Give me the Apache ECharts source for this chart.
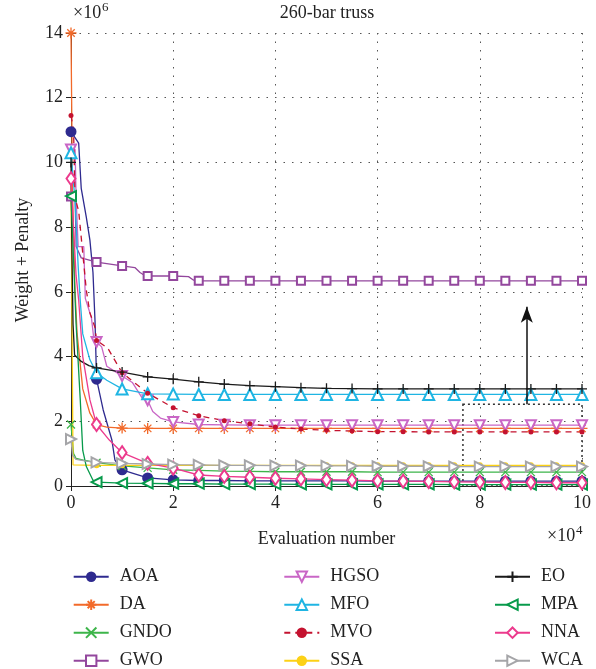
<!DOCTYPE html>
<html><head><meta charset="utf-8">
<script src="https://cdn.jsdelivr.net/npm/echarts@6/dist/echarts.min.js"></script>
<style>html,body{margin:0;padding:0;background:#fff}#c{width:596px;height:669px}</style>
</head><body><div id="c"></div>
<script>
// x in units of 1e4 evaluations, y in units of 1e6
const names = ['AOA','DA','GNDO','GWO','HGSO','MFO','MVO','SSA','EO','MPA','NNA','WCA'];
const xTicks = [0,2,4,6,8,10];
const yTicks = [0,2,4,6,8,10,12,14];

const AOA = [[0,10.95],[0.15,10.6],[0.2,9.2],[0.3,8.3],[0.37,7.6],[0.43,6.6],[0.47,5.1],[0.5,3.3],[0.63,2.35],[0.8,1.42],[0.86,0.8],[1,0.5],[1.2,0.4],[1.5,0.25],[2,0.19],[2.5,0.17],[3,0.17],[3.5,0.16],[4,0.16],[4.5,0.16],[5,0.16],[5.5,0.16],[6,0.15],[6.5,0.15],[7,0.15],[7.5,0.15],[8,0.15],[8.5,0.15],[9,0.15],[9.5,0.15],[10,0.15]];
const DA = [[0,14],[0.03,9],[0.08,6],[0.12,4.7],[0.23,3.0],[0.37,2.25],[0.5,1.9],[0.7,1.82],[1,1.79],[1.5,1.78],[2,1.78],[2.5,1.78],[3,1.78],[3.5,1.78],[4,1.78],[4.5,1.78],[5,1.78],[5.5,1.78],[6,1.78],[6.5,1.78],[7,1.78],[7.5,1.78],[8,1.78],[8.5,1.78],[9,1.78],[9.5,1.78],[10,1.78]];
const GNDO = [[0,1.9],[0.05,1.0],[0.1,0.85],[0.3,0.78],[0.5,0.72],[1,0.62],[1.5,0.56],[2,0.5],[2.5,0.48],[3,0.46],[3.5,0.45],[4,0.44],[4.5,0.44],[5,0.44],[5.5,0.44],[6,0.43],[6.5,0.43],[7,0.43],[7.5,0.43],[8,0.43],[8.5,0.43],[9,0.43],[9.5,0.43],[10,0.43]];
const GWO = [[0,8.95],[0.08,8.95],[0.1,7.4],[0.2,7.05],[0.5,6.92],[1,6.8],[1.25,6.75],[1.35,6.6],[1.45,6.5],[1.5,6.49],[2,6.49],[2.3,6.47],[2.4,6.36],[2.5,6.34],[3,6.34],[3.5,6.34],[4,6.34],[4.5,6.34],[5,6.34],[5.5,6.34],[6,6.34],[6.5,6.34],[7,6.34],[7.5,6.34],[8,6.34],[8.5,6.34],[9,6.34],[9.5,6.34],[10,6.34]];
const HGSO = [[0,10.4],[0.08,10.4],[0.1,8.9],[0.14,7.4],[0.25,7.4],[0.28,5.8],[0.4,5.2],[0.45,4.5],[0.5,4.45],[0.6,4.3],[0.7,3.7],[0.85,3.55],[1,3.4],[1.2,3.2],[1.4,2.7],[1.5,2.65],[1.6,2.3],[1.75,2.1],[2,1.98],[2.5,1.9],[3,1.89],[3.5,1.88],[4,1.88],[4.5,1.88],[5,1.88],[5.5,1.88],[6,1.88],[6.5,1.88],[7,1.88],[7.5,1.88],[8,1.88],[8.5,1.88],[9,1.88],[9.5,1.88],[10,1.88]];
const MFO = [[0,10.3],[0.08,8.8],[0.14,6.8],[0.18,5.75],[0.23,4.7],[0.37,3.9],[0.5,3.5],[0.7,3.27],[1,3.0],[1.5,2.85],[2,2.84],[2.5,2.83],[3,2.83],[3.5,2.83],[4,2.83],[4.5,2.83],[5,2.83],[5.5,2.83],[6,2.83],[6.5,2.83],[7,2.83],[7.5,2.83],[8,2.83],[8.5,2.83],[9,2.83],[9.5,2.83],[10,2.83]];
const MVO = [[0,11.45],[0.05,11],[0.08,8.9],[0.15,8.5],[0.3,6.05],[0.37,5.35],[0.47,4.9],[0.5,4.5],[0.72,4.26],[1,3.5],[1.3,3.12],[1.5,2.87],[2,2.42],[2.5,2.17],[3,2.02],[3.5,1.92],[4,1.82],[4.5,1.76],[5,1.72],[5.5,1.7],[6,1.68],[6.5,1.68],[7,1.67],[7.5,1.67],[8,1.67],[8.5,1.67],[9,1.67],[9.5,1.67],[10,1.67]];
const SSA = [[0,9.5],[0.04,0.65],[0.5,0.64],[1,0.64],[1.5,0.64],[2,0.64],[2.5,0.64],[3,0.64],[3.5,0.64],[4,0.64],[4.5,0.64],[5,0.64],[5.5,0.64],[6,0.64],[6.5,0.64],[7,0.64],[7.5,0.64],[8,0.64],[8.5,0.64],[9,0.64],[9.5,0.64],[10,0.64]];
const EO = [[0,10.0],[0.02,7],[0.04,5],[0.07,4.05],[0.2,3.85],[0.35,3.72],[0.5,3.65],[1,3.52],[1.5,3.37],[2,3.3],[2.5,3.22],[3,3.15],[3.5,3.1],[4,3.07],[4.5,3.04],[5,3.02],[5.5,3.01],[6,3.0],[6.5,3.0],[7,3.0],[7.5,3.0],[8,3.0],[8.5,3.0],[9,3.0],[9.5,3.0],[10,3.0]];
const MPA = [[0,8.96],[0.05,7],[0.1,5],[0.18,2.7],[0.23,1.1],[0.3,0.6],[0.43,0.18],[0.5,0.12],[1,0.09],[1.5,0.08],[2,0.07],[2.5,0.07],[3,0.06],[3.5,0.06],[4,0.06],[4.5,0.05],[5,0.05],[5.5,0.05],[6,0.05],[6.5,0.05],[7,0.05],[7.5,0.04],[8,0.04],[8.5,0.04],[9,0.04],[9.5,0.04],[10,0.04]];
const NNA = [[0,9.5],[0.05,8],[0.1,6.5],[0.15,5.75],[0.23,4.0],[0.37,2.66],[0.5,1.9],[0.75,1.42],[1,1.03],[1.5,0.7],[2,0.55],[2.5,0.34],[3,0.3],[3.5,0.27],[4,0.24],[4.5,0.22],[5,0.2],[5.5,0.18],[6,0.16],[6.5,0.15],[7,0.14],[7.5,0.13],[8,0.12],[8.5,0.11],[9,0.11],[9.5,0.1],[10,0.1]];
const WCA = [[0,1.45],[0.03,0.95],[0.1,0.82],[0.3,0.77],[0.5,0.73],[1,0.7],[1.5,0.68],[2,0.66],[2.5,0.65],[3,0.64],[3.5,0.64],[4,0.63],[4.5,0.63],[5,0.62],[5.5,0.62],[6,0.61],[6.5,0.61],[7,0.61],[7.5,0.6],[8,0.6],[8.5,0.6],[9,0.6],[9.5,0.6],[10,0.6]];
const zoomBox = [[7.67,2.53],[10.05,-0.09]];
const arrowLine = [[8.92,2.53],[8.92,5.54]];

const seriesData = {AOA,DA,GNDO,GWO,HGSO,MFO,MVO,SSA,EO,MPA,NNA,WCA};
const FONT = 'Liberation Serif';
const style = {
  AOA:  {c:'#2e2a8f', sym:'circle', size:11, fill:true},
  DA:   {c:'#f26a2a', sym:'path://M5,0L5,10M0,5L10,5M1.6,1.6L8.4,8.4M1.6,8.4L8.4,1.6', size:11, path:true},
  GNDO: {c:'#3db54a', sym:'path://M0,0L10,10M0,10L10,0', size:8, path:true},
  GWO:  {c:'#93479d', sym:'emptyRect', size:8},
  HGSO: {c:'#c966c6', sym:'emptyTriangle', size:10, rot:180},
  MFO:  {c:'#1fb5e3', sym:'emptyTriangle', size:11},
  MVO:  {c:'#c4122f', sym:'circle', size:5, fill:true, dash:[6,5]},
  SSA:  {c:'#fcd116', sym:'circle', size:6, fill:true},
  EO:   {c:'#1a1a1a', sym:'path://M5,0L5,10M0,5L10,5', size:10, path:true},
  MPA:  {c:'#079a4b', sym:'emptyTriangle', size:10, rot:90},
  NNA:  {c:'#ec3a8d', sym:'emptyDiamond', size:[9,13]},
  WCA:  {c:'#a5a5a8', sym:'emptyTriangle', size:10, rot:-90}
};

const series = names.map(n => {
  const s = style[n];
  const data = seriesData[n].map(p => {
    const onMark = Math.abs(p[0]*2 - Math.round(p[0]*2)) < 1e-9;
    return onMark ? {value:p} : {value:p, symbol:'none'};
  });
  const o = {
    name:n, type:'line', data, showAllSymbol:true, symbol:s.sym, symbolSize:s.size,
    symbolRotate:s.rot||0, animation:false, clip:false,
    color:s.c,
    lineStyle:{color:s.c, width:1.3, type:s.dash||'solid'},
    itemStyle: s.fill ? {color:s.c, borderWidth:0} :
               s.path ? {color:s.c, borderColor:s.c, borderWidth:1.3} :
               {color:s.c, borderColor:s.c, borderWidth:1.3},
    emphasis:{disabled:true}
  };
  if (n === 'EO') {
    o.markArea = {silent:true, itemStyle:{color:'rgba(0,0,0,0)', borderColor:'#333', borderWidth:1.5, borderType:[2,3]},
      data:[[{coord:zoomBox[0]},{coord:zoomBox[1]}]]};
    o.markLine = {silent:true, symbol:['none','arrow'], symbolSize:[9,16], label:{show:false},
      lineStyle:{color:'#111', width:1.5, type:'solid'},
      data:[[{coord:arrowLine[0]},{coord:arrowLine[1]}]]};
  }
  return o;
});

const legendBase = {orient:'vertical', itemWidth:35, itemHeight:13, itemGap:7, padding:0, height:160, width:110,
  textStyle:{fontFamily:FONT, fontSize:18, color:'#222', lineHeight:21, padding:[0,0,0,6]}, selectedMode:false};

const axisText = {fontFamily:FONT, fontSize:18, color:'#222'};
const option = {
  backgroundColor:'#fff',
  animation:false,
  grid:{left:71, right:14, top:33, bottom:183},
  xAxis:[
    {type:'value', min:0, max:10, interval:2, axisLine:{lineStyle:{color:'#222', width:1}},
     axisTick:{inside:true, length:5, lineStyle:{color:'#222'}}, axisLabel:{...axisText, margin:8},
     splitLine:{show:true, lineStyle:{color:'#555', type:[1.5,7], width:1}}},
    {type:'value', min:0, max:10, interval:2, position:'top', axisLine:{lineStyle:{color:'#222'}},
     axisTick:{inside:true, length:5, lineStyle:{color:'#222'}}, axisLabel:{show:false}, splitLine:{show:false}}
  ],
  yAxis:[
    {type:'value', min:0, max:14, interval:2, axisLine:{show:true, lineStyle:{color:'#222'}},
     axisTick:{show:true, inside:true, length:5, lineStyle:{color:'#222'}}, axisLabel:{...axisText, margin:8},
     splitLine:{show:true, lineStyle:{color:'#555', type:[1.5,7], width:1}}},
    {type:'value', min:0, max:14, interval:2, position:'right', axisLine:{show:true, lineStyle:{color:'#222'}},
     axisTick:{show:true, inside:true, length:5, lineStyle:{color:'#222'}}, axisLabel:{show:false}, splitLine:{show:false}}
  ],
  legend:[
    {...legendBase, left:72.7, top:566.2, data:names.slice(0,4)},
    {...legendBase, left:283.3, top:566.2, data:names.slice(4,8)},
    {...legendBase, left:494, top:566.2, data:names.slice(8,12)}
  ],
  graphic:[
    {type:'text', x:327, y:13, style:{text:'260-bar truss', font:'18px "Liberation Serif"', fill:'#222', textAlign:'center', textVerticalAlign:'middle'}, silent:true},
    {type:'text', x:73, y:22, style:{text:'×10', font:'18px "Liberation Serif"', fill:'#222', textVerticalAlign:'bottom'}, silent:true},
    {type:'text', x:102, y:14, style:{text:'6', font:'13px "Liberation Serif"', fill:'#222', textVerticalAlign:'bottom'}, silent:true},
    {type:'text', x:326.5, y:539, style:{text:'Evaluation number', font:'18px "Liberation Serif"', fill:'#222', textAlign:'center', textVerticalAlign:'middle'}, silent:true},
    {type:'text', x:547, y:545, style:{text:'×10', font:'18px "Liberation Serif"', fill:'#222', textVerticalAlign:'bottom'}, silent:true},
    {type:'text', x:576, y:537, style:{text:'4', font:'13px "Liberation Serif"', fill:'#222', textVerticalAlign:'bottom'}, silent:true},
    {type:'text', x:23, y:260, rotation:Math.PI/2, style:{text:'Weight + Penalty', font:'18px "Liberation Serif"', fill:'#222', textAlign:'center', textVerticalAlign:'middle'}, silent:true}
  ],
  series
};
const chart = echarts.init(document.getElementById('c'), null, {renderer:'canvas'});
chart.setOption(option);
</script></body></html>
